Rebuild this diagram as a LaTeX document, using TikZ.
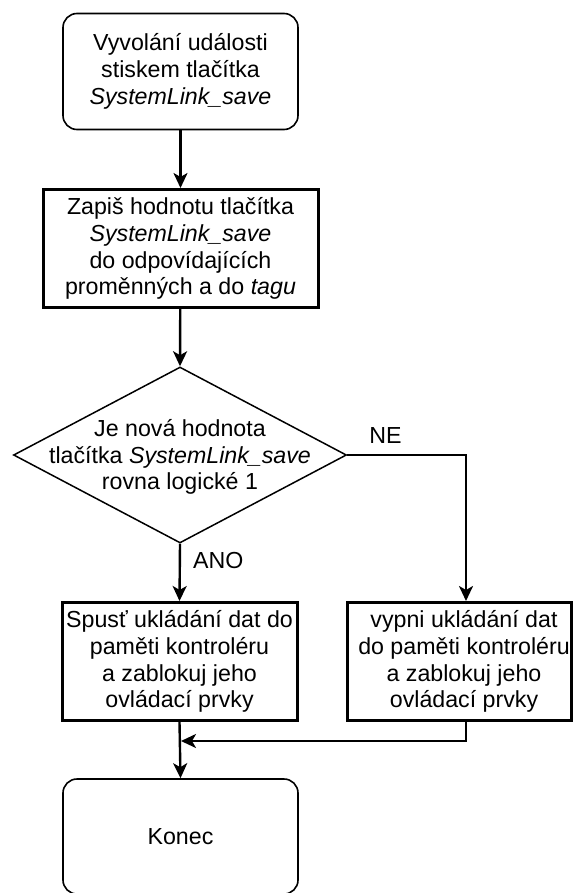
\documentclass[tikz,border=0pt]{standalone}
\usepackage{fontspec}
\setmainfont{Liberation Sans}
\usetikzlibrary{shapes.geometric,arrows.meta}
\begin{document}
\begin{tikzpicture}[x=1pt,y=1pt,
  every node/.style={font=\fontsize{23.2}{26.8}\selectfont},
  term/.style={draw, line width=1.6pt, rounded corners=14pt, minimum width=235pt, minimum height=116pt, align=center, inner sep=0pt},
  proc/.style={draw, line width=3pt, minimum height=118pt, align=center, inner sep=0pt},
  decision/.style={draw, diamond, line width=1.5pt, minimum width=333pt, minimum height=176pt, inner sep=0pt},
  conn/.style={line width=2.4pt, -{Stealth[length=15pt,width=14pt,inset=4pt]}},
  lbl/.style={inner sep=0pt}
]
\useasboundingbox (0,0) rectangle (573,-893);

\node[term] (start) at (180.5,-71.5) {Vyvolání události\\stiskem tlačítka\\\textit{SystemLink\_save}};
\node[proc, minimum width=275pt] (write) at (180.5,-248.5) {Zapiš hodnotu tlačítka\\\textit{SystemLink\_save}\\do odpovídajících\\proměnných a do \textit{tagu}};
\node[decision] (dec) at (180,-455) {};
\node[align=center, inner sep=0pt] (dectext) at (180,-457) {Je nová hodnota\\tlačítka \textit{SystemLink\_save}\\rovna logické 1};
\node[proc, minimum width=235pt] (yes) at (179.5,-661.5) {Spusť ukládání dat do\\paměti kontroléru\\a zablokuj jeho\\ovládací prvky};
\node[proc, minimum width=224pt] (no) at (459,-661.5) {\hspace*{10pt}vypni ukládání dat\\\hspace*{10pt}do paměti kontroléru\\\hspace*{10pt}a zablokuj jeho\\\hspace*{10pt}ovládací prvky};
\node[term, minimum height=115pt] (end) at (180.5,-836.5) {Konec};

\coordinate (nx) at (466,0);
\coordinate (jn) at (181,-741);

\draw[conn] (start) -- (write);
\draw[conn] (write) -- (dec.north);
\draw[conn] (dec.south) -- (yes.north) node[lbl, pos=0.3, anchor=west, xshift=12pt] {ANO};
\draw[conn] (dec.east) -- (nx |- dec.east) -- (nx |- no.north);
\node[lbl] (ne) at (385.5,-436) {NE};
\draw[conn] (yes.south) -- (end.north);
\draw[conn] (nx |- no.south) -- (nx |- jn) -- (jn);
\end{tikzpicture}
\end{document}
